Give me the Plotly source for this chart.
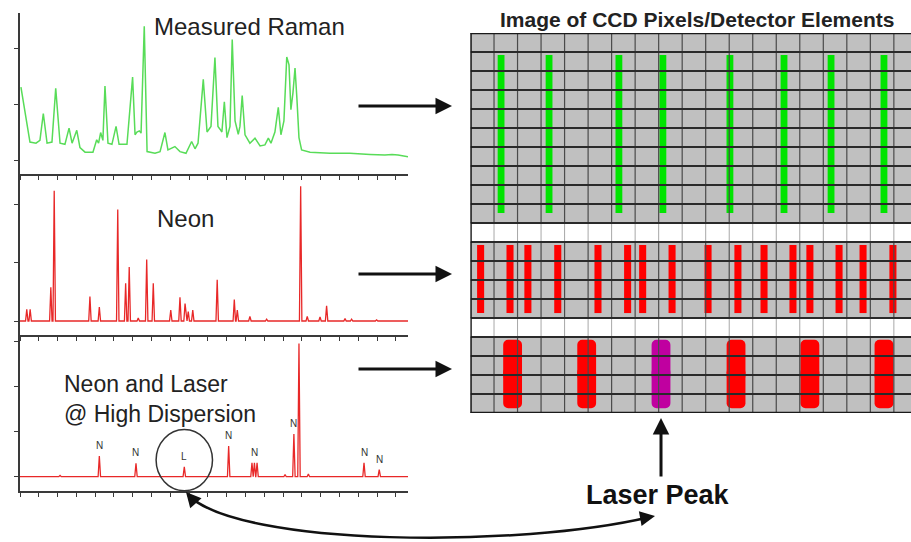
import plotly.graph_objects as go

W, H = 911, 542

# ---------------- spectra (x in tick units, y in axis units) ----------------
raman_points = [
    (0.05, 1.30), (0.53, 0.32), (0.85, 0.30), (1.06, 0.35), (1.24, 0.83), (1.44, 0.30),
    (1.70, 0.32), (1.90, 1.28), (2.13, 0.30), (2.39, 0.28), (2.61, 0.57), (2.77, 0.30),
    (3.02, 0.53), (3.19, 0.22), (3.46, 0.14), (3.88, 0.14), (4.08, 0.36), (4.18, 0.30),
    (4.29, 0.49), (4.41, 0.35), (4.52, 1.32), (4.68, 0.30), (4.89, 0.28), (5.11, 0.60),
    (5.27, 0.28), (5.69, 0.28), (5.99, 1.48), (6.12, 0.45), (6.22, 0.50), (6.35, 0.52),
    (6.44, 0.48), (6.61, 2.39), (6.76, 0.15), (7.18, 0.12), (7.45, 0.15), (7.71, 0.49),
    (7.87, 0.18), (8.24, 0.24), (8.51, 0.15), (8.83, 0.12), (9.13, 0.33), (9.31, 0.20),
    (9.47, 0.30), (9.75, 1.44), (9.95, 0.50), (10.16, 0.60), (10.37, 1.83), (10.53, 0.60),
    (10.64, 0.55), (10.74, 0.50), (10.87, 1.04), (11.01, 0.40), (11.17, 0.60), (11.29, 2.15),
    (11.44, 0.70), (11.61, 0.46), (11.70, 0.60), (11.82, 1.15), (11.97, 0.45), (12.23, 0.30),
    (12.50, 0.39), (12.77, 0.25), (13.03, 0.27), (13.21, 0.39), (13.35, 0.30), (13.56, 0.50),
    (13.74, 0.94), (13.88, 0.45), (14.04, 0.70), (14.19, 1.84), (14.31, 1.70), (14.41, 0.90),
    (14.52, 1.20), (14.63, 1.64), (14.73, 1.10), (14.84, 0.40), (14.98, 0.18), (15.43, 0.14),
    (16.49, 0.12), (17.55, 0.12), (18.62, 0.10), (19.41, 0.09), (19.79, 0.10), (20.11, 0.09),
    (20.64, 0.06),
]

neon_x = [0.36, 0.54, 1.64, 1.82, 3.72, 4.22, 5.20, 5.62, 5.81, 6.29, 6.74, 7.09, 8.02,
          8.51, 8.78, 8.95, 9.19, 10.49, 11.40, 11.56, 12.23, 13.12, 14.93, 15.28, 15.96,
          16.31, 17.29, 17.64, 18.97]
neon_h = [0.20, 0.20, 0.58, 2.24, 0.42, 0.24, 1.92, 0.65, 0.93, 0.05, 1.06, 0.65, 0.19,
          0.41, 0.30, 0.16, 0.19, 0.71, 0.37, 0.19, 0.08, 0.03, 2.32, 0.08, 0.07,
          0.26, 0.04, 0.03, 0.02]

hd_x = [2.13, 4.22, 6.17, 8.74, 11.10, 12.34, 12.47, 12.61, 14.10, 14.57, 14.84, 15.34, 18.30, 19.11]
hd_h = [0.03, 0.46, 0.30, 0.22, 0.68, 0.31, 0.31, 0.31, 0.05, 0.95, 2.96, 0.06, 0.31, 0.16]
hd_tag = ["", "N", "N", "L", "N", "", "N", "", "", "N", "", "", "N", "N"]

# ---------------- detector image (columns / rows of pixels) ----------------
n_cols, n_rows = 19, 20
row_fill = [1] * 10 + [0] + [1] * 4 + [0] + [1] * 4
raman_cols = [1.30, 3.34, 6.31, 8.18, 11.03, 13.33, 15.33, 17.58]
raman_rows = (1.16, 9.47)
neon_cols = [0.43, 1.68, 2.44, 3.71, 5.42, 6.68, 7.32, 8.57, 10.10, 11.37, 12.48,
             13.71, 14.43, 15.67, 16.69, 17.96]
neon_rows = (11.16, 14.74)
hd_cols = [1.79, 4.94, 8.10, 11.29, 14.43, 17.58]
hd_kind = ["Ne", "Ne", "Laser", "Ne", "Ne", "Ne"]
hd_rows = (16.15, 19.75)


def px(x):
    return x / W


def py(y):
    return 1 - y / H


def sticks(xs, hs, hw=0.065):
    order = sorted(range(len(xs)), key=lambda i: xs[i])
    lx, ly = [0.0], [0.0]
    for i in order:
        lx += [xs[i] - hw, xs[i], xs[i] + hw]
        ly += [0.0, hs[i], 0.0]
    lx.append(20.64)
    ly.append(0.0)
    return lx, ly


fig = go.Figure()

# spectra
fig.add_trace(go.Scatter(x=[p[0] for p in raman_points], y=[p[1] for p in raman_points],
                         mode="lines", line=dict(color="#58dc58", width=1.5),
                         xaxis="x", yaxis="y", hoverinfo="skip"))
nx, ny = sticks(neon_x, neon_h)
fig.add_trace(go.Scatter(x=nx, y=ny, mode="lines", line=dict(color="#e82828", width=1.3),
                         xaxis="x2", yaxis="y2", hoverinfo="skip"))
hx, hy = sticks(hd_x, hd_h)
fig.add_trace(go.Scatter(x=hx, y=hy, mode="lines", line=dict(color="#e82828", width=1.3),
                         xaxis="x3", yaxis="y3", hoverinfo="skip"))

# detector cells
fig.add_trace(go.Heatmap(
    x=[c + 0.5 for c in range(n_cols)], y=[r + 0.5 for r in range(n_rows)],
    z=[[f] * n_cols for f in row_fill],
    colorscale=[[0, "#ffffff"], [1, "#c0c0c0"]], zmin=0, zmax=1, showscale=False,
    xaxis="x4", yaxis="y4", hoverinfo="skip"))

# pixel boundaries
vdx, vdy, vlx, vly = [], [], [], []
for c in range(n_cols + 1):
    for r in range(n_rows):
        if row_fill[r]:
            vdx += [c, c, None]; vdy += [r, r + 1, None]
        else:
            vlx += [c, c, None]; vly += [r, r + 1, None]
hgx, hgy = [], []
for r in range(n_rows + 1):
    hgx += [0, n_cols, None]; hgy += [r, r, None]
fig.add_trace(go.Scatter(x=vlx, y=vly, mode="lines", line=dict(color="#a8a8a8", width=1),
                         xaxis="x4", yaxis="y4", hoverinfo="skip"))
fig.add_trace(go.Scatter(x=vdx, y=vdy, mode="lines", line=dict(color="#4a4a4a", width=1.2),
                         xaxis="x4", yaxis="y4", hoverinfo="skip"))
fig.add_trace(go.Scatter(x=hgx, y=hgy, mode="lines", line=dict(color="#2a2a2a", width=1.8),
                         xaxis="x4", yaxis="y4", hoverinfo="skip"))
fig.add_trace(go.Scatter(x=[0, 0, None, 0, n_cols, None, 0, n_cols],
                         y=[0, n_rows, None, 0, 0, None, n_rows, n_rows],
                         mode="lines", line=dict(color="#1a1a1a", width=2.6),
                         xaxis="x4", yaxis="y4", hoverinfo="skip"))

# detector images of the lines
fig.add_trace(go.Bar(x=raman_cols, base=raman_rows[0],
                     y=[raman_rows[1] - raman_rows[0]] * len(raman_cols), width=0.29,
                     marker=dict(color="#00e400", line=dict(width=0)),
                     xaxis="x4", yaxis="y4", hoverinfo="skip"))
fig.add_trace(go.Bar(x=neon_cols, base=neon_rows[0],
                     y=[neon_rows[1] - neon_rows[0]] * len(neon_cols), width=0.3,
                     marker=dict(color="#ff0000", line=dict(width=0)),
                     xaxis="x4", yaxis="y4", hoverinfo="skip"))
# each high-dispersion spot is built from two overlapping halves so both ends are rounded
mid = (hd_rows[0] + hd_rows[1]) / 2
hd_colors = ["#c000a0" if k == "Laser" else "#ff0000" for k in hd_kind]
for end in hd_rows:
    fig.add_trace(go.Bar(x=hd_cols, base=end, y=[(mid - end) * 1.2] * len(hd_cols), width=0.8,
                         marker=dict(color=hd_colors, line=dict(width=0), cornerradius=5),
                         xaxis="x4", yaxis="y4", hoverinfo="skip"))

axis_common = dict(showgrid=False, zeroline=False, showticklabels=False, showline=True,
                   linecolor="#3a3a3a", linewidth=1.5, ticks="outside", ticklen=4,
                   tickwidth=1, tickcolor="#3a3a3a")
xdom = [px(20), px(408)]
xcommon = dict(axis_common, domain=xdom, range=[0, 20.64], tickmode="linear", tick0=0, dtick=1)

layout = dict(
    width=W, height=H, margin=dict(l=0, r=0, t=0, b=0),
    paper_bgcolor="white", plot_bgcolor="white", showlegend=False, barmode="overlay",
    xaxis=dict(xcommon, anchor="y"),
    yaxis=dict(axis_common, anchor="x", domain=[py(174), py(13)], range=[-0.25, 2.625],
               tickvals=[0, 1, 2]),
    xaxis2=dict(xcommon, anchor="y2"),
    yaxis2=dict(axis_common, anchor="x2", domain=[py(335), py(174)], range=[-0.241, 2.53],
                tickvals=[0, 1, 2]),
    xaxis3=dict(xcommon, anchor="y3"),
    yaxis3=dict(axis_common, anchor="x3", domain=[py(491), py(335)], range=[-0.318, 3.15],
                tickvals=[0, 1, 2, 3]),
    xaxis4=dict(domain=[px(470.5), 1], range=[0, (W - 470.5) / 23.52], visible=False,
                anchor="y4"),
    yaxis4=dict(domain=[py(413), py(33)], range=[n_rows, 0], visible=False, anchor="x4"),
)
fig.update_layout(**layout)

font = "Liberation Sans, Arial, sans-serif"
txt = "#222222"


def label(text, x, y, size, color=txt, **kw):
    d = dict(text=text, xref="paper", yref="paper", x=px(x), y=py(y), xanchor="center",
             yanchor="middle", showarrow=False, font=dict(family=font, size=size, color=color))
    d.update(kw)
    return d


ann = [
    label("Measured Raman", 249, 27, 24),
    label("Neon", 185, 218, 24),
    label("Neon and Laser<br>@ High Dispersion", 62, 399, 23, xanchor="left", align="left"),
    label("<b>Image of CCD Pixels/Detector Elements</b>", 697, 20, 21),
    label("<b>Laser Peak</b>", 658, 495, 27, color="#111111"),
]

# peak tags
for x, h, t in zip(hd_x, hd_h, hd_tag):
    if t:
        ann.append(dict(text=t, xref="x3", yref="y3", x=x, y=h, xanchor="center",
                        yanchor="bottom", yshift=3, showarrow=False,
                        font=dict(family=font, size=10, color="#333333")))

# arrows from spectra to detector rows
for yy in (106, 274, 369):
    ann.append(dict(text="", xref="paper", yref="paper", x=px(452), y=py(yy),
                    ax=-95, ay=0, showarrow=True, arrowhead=2, arrowsize=1.1,
                    arrowwidth=3, arrowcolor="#111111"))

# laser peak pointer
laser_col = hd_cols[hd_kind.index("Laser")]
ann.append(dict(text="", xref="x4", yref="paper", x=laser_col, y=py(418), ax=0, ay=60,
                showarrow=True, arrowhead=2, arrowsize=1.1, arrowwidth=3,
                arrowcolor="#111111"))

# curved link heads
ann.append(dict(text="", xref="paper", yref="paper", x=px(186), y=py(492), ax=7, ay=8,
                showarrow=True, arrowhead=2, arrowsize=1.2, arrowwidth=2.5,
                arrowcolor="#111111"))
ann.append(dict(text="", xref="paper", yref="paper", x=px(655), y=py(516), ax=-11, ay=2,
                showarrow=True, arrowhead=2, arrowsize=1.2, arrowwidth=2.5,
                arrowcolor="#111111"))
fig.update_layout(annotations=ann)

# circle around the laser line and curved link
lx = hd_x[hd_tag.index("L")]
shapes = [
    dict(type="circle", xref="x3", yref="y3", x0=lx - 1.5, x1=lx + 1.5, y0=0.37 - 0.68,
         y1=0.37 + 0.68, line=dict(color="#333333", width=1.5)),
    dict(type="path", xref="paper", yref="paper",
         path=f"M {px(188)},{py(495)} C {px(240)},{py(547)} {px(520)},{py(548)} {px(650)},{py(517)}",
         line=dict(color="#111111", width=2.5)),
]
fig.update_layout(shapes=shapes)

fig.write_html("out.html")
